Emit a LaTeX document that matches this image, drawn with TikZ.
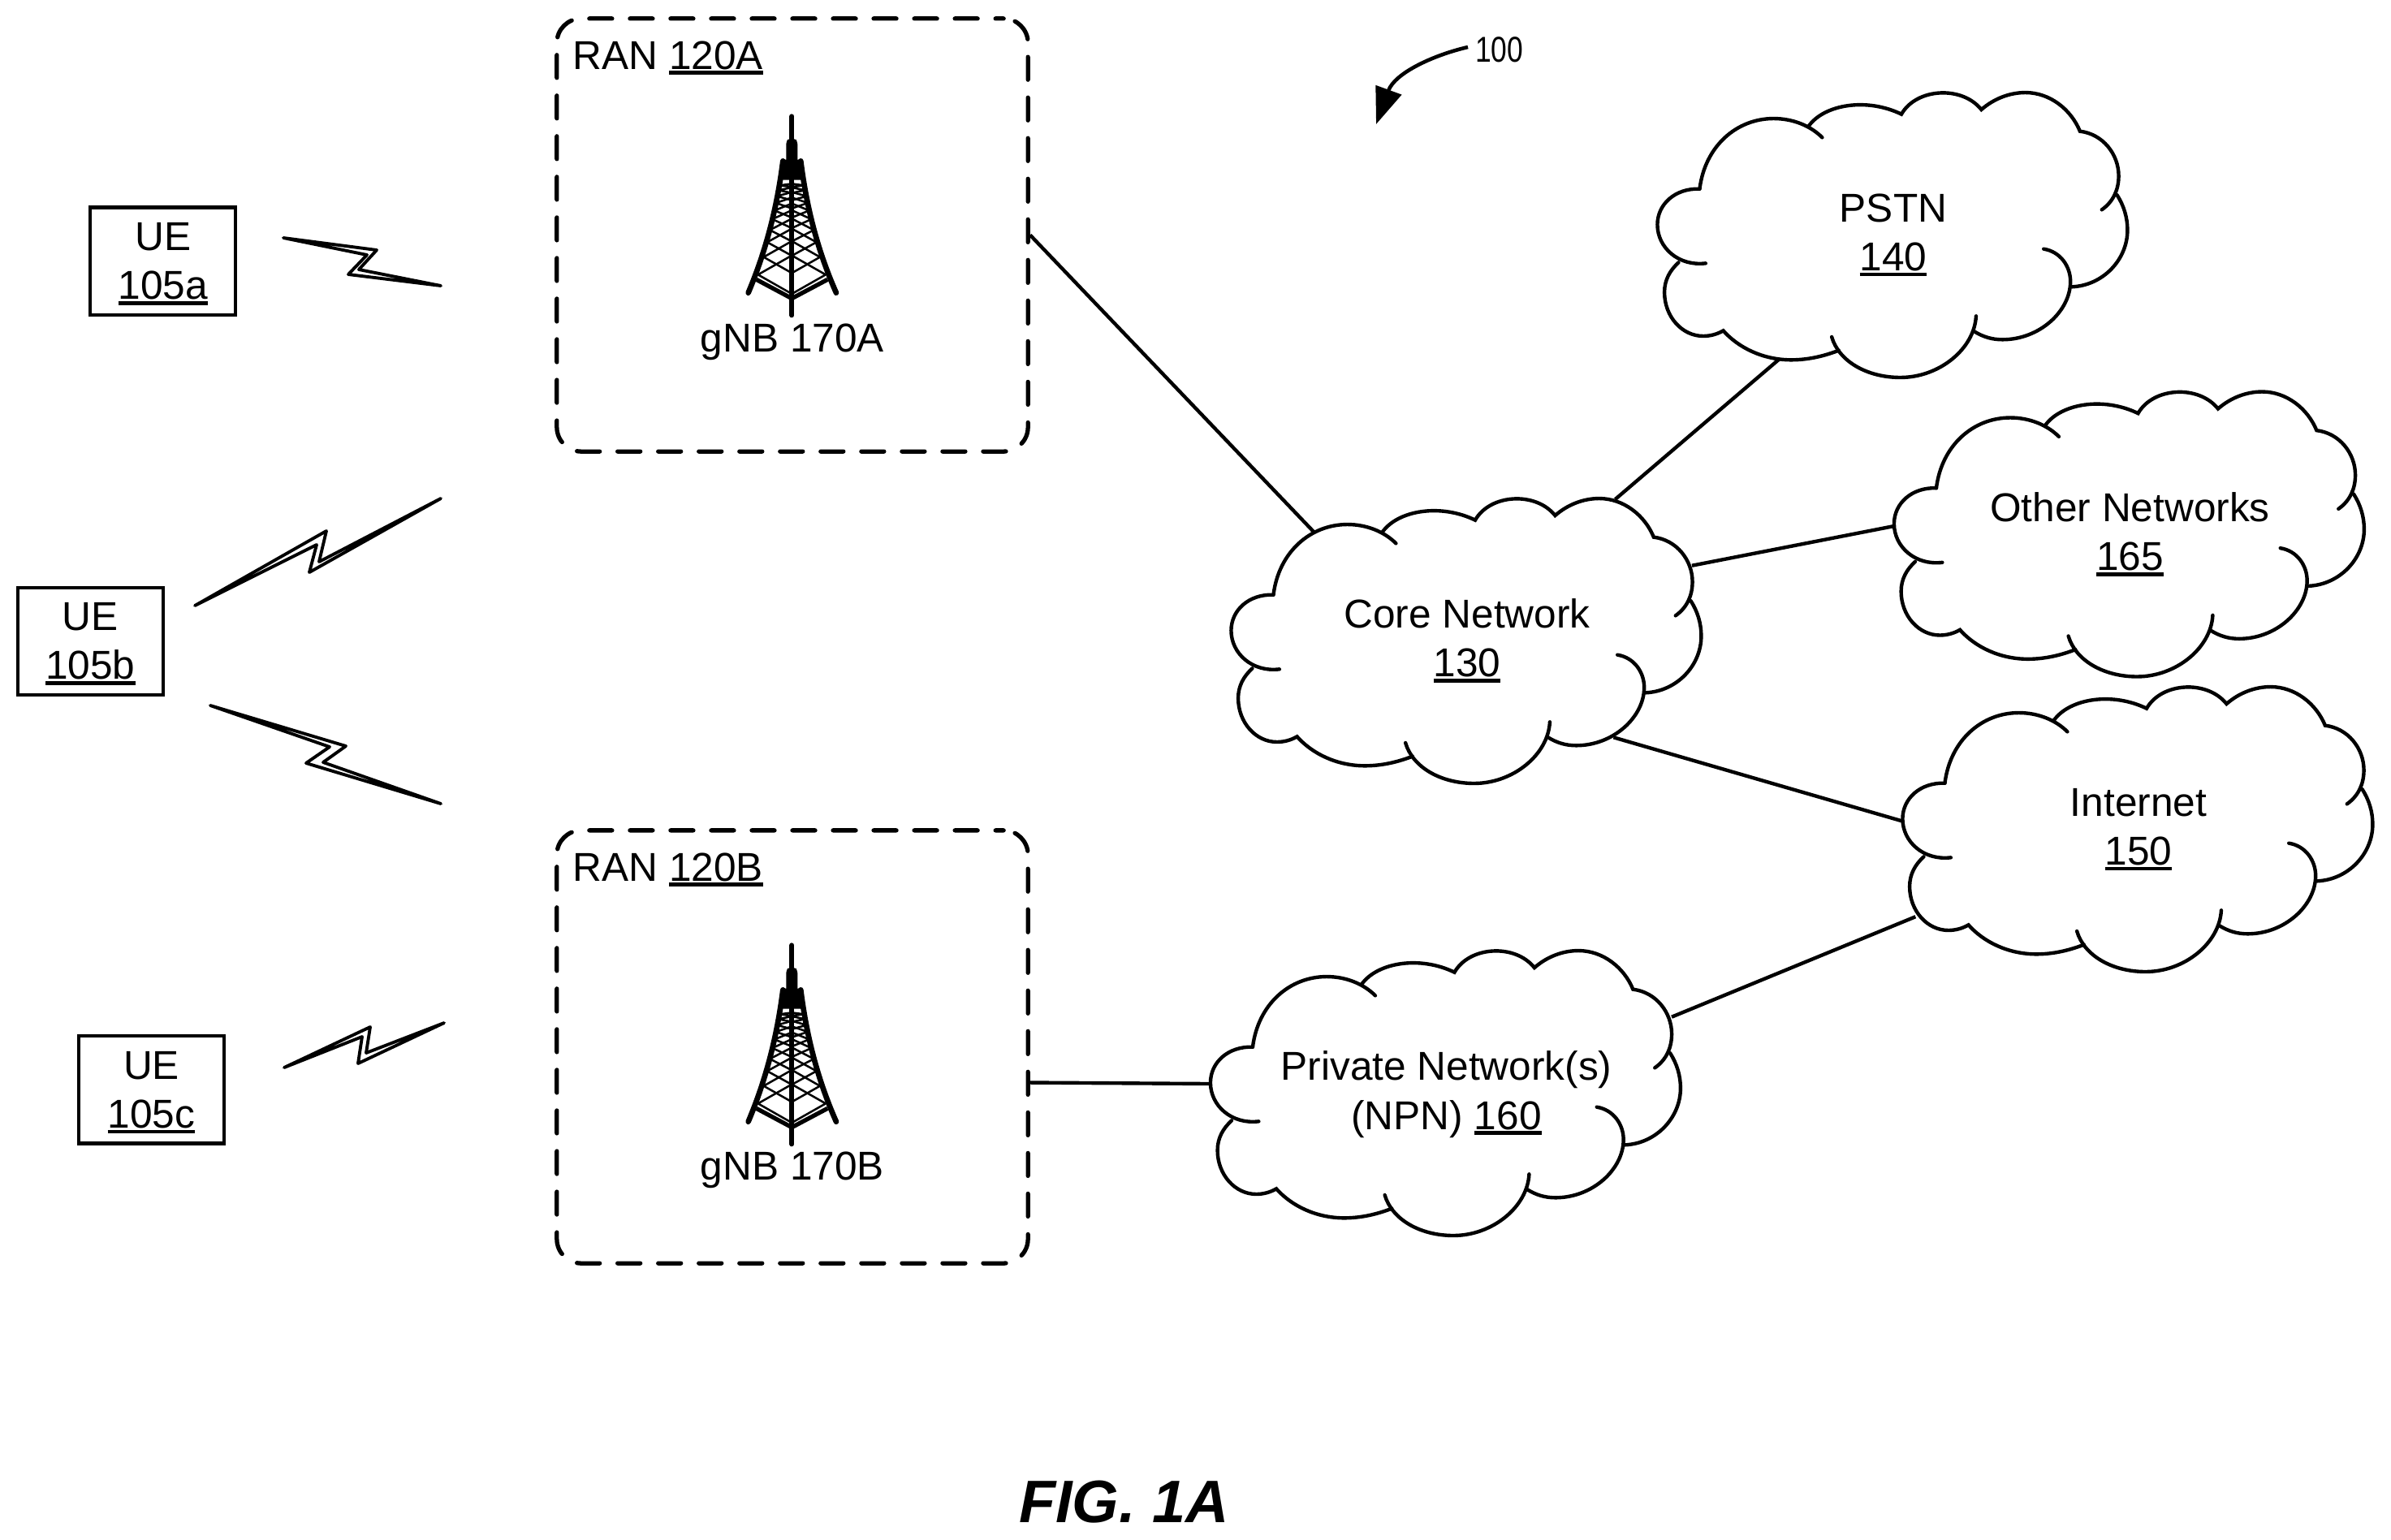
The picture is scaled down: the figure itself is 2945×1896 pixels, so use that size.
\documentclass[tikz,border=0pt]{standalone}
\usepackage{fontspec}
\setmainfont{Liberation Sans}
\usetikzlibrary{arrows.meta}
\newcommand\ulnum[1]{\setbox0=\hbox{#1}\rlap{\smash{\rule[-2pt]{\wd0}{1.3pt}}}\box0}

\begin{document}
\begin{tikzpicture}
[x=.01cm,y=-.01cm,
textfont/.style={font=\fontsize{14.1}{17.07}\selectfont},
uebox/.style={draw,line width=1.25pt,textfont,align=center,inner sep=0pt,text depth=0pt,minimum width=1.79cm,minimum height=1.32cm},
ranbox/.style={draw,line width=1.5pt,line cap=round,dash pattern=on .28cm off .22cm,dash phase=.18cm,rounded corners=.3cm,minimum width=5.8cm,minimum height=5.33cm},
netlabel/.style={textfont,align=center,inner sep=0pt,text depth=0pt},
link/.style={line width=1.25pt},
bolt/.style={line width=1.1pt,line join=round},
netcloud/.pic={
  \begin{scope}[xscale=.4337,yscale=.3333,shift={(-755,-618)}]
  \draw[link,line cap=round] (205,458) .. controls (220,300) and (310,198) .. (415,198) .. controls (470,198) and (520,225) .. (553,268);
  \draw[link,line cap=round] (515,225) .. controls (560,145) and (680,120) .. (778,182) .. controls (820,85) and (950,75) .. (1005,165) .. controls (1040,125) and (1085,102) .. (1130,102) .. controls (1200,102) and (1260,165) .. (1285,245) .. controls (1350,255) and (1395,330) .. (1395,410) .. controls (1395,460) and (1380,505) .. (1347,535);
  \draw[link,line cap=round] (1390,480) .. controls (1410,520) and (1420,565) .. (1420,610) .. controls (1420,720) and (1350,815) .. (1262,820);
  \draw[link,line cap=round] (1182,680) .. controls (1230,690) and (1258,745) .. (1258,800) .. controls (1258,910) and (1170,1015) .. (1065,1015) .. controls (1035,1015) and (1010,1005) .. (985,985);
  \draw[link,line cap=round] (990,928) .. controls (985,1050) and (885,1155) .. (775,1155) .. controls (680,1155) and (600,1095) .. (580,1005);
  \draw[link,line cap=round] (600,1055) .. controls (560,1075) and (515,1090) .. (465,1090) .. controls (385,1090) and (315,1045) .. (272,982) .. controls (255,995) and (235,1002) .. (215,1002) .. controls (155,1002) and (105,930) .. (105,840) .. controls (105,795) and (120,760) .. (145,730);
  \draw[link,line cap=round] (222,733) .. controls (145,745) and (85,675) .. (85,590) .. controls (85,515) and (135,455) .. (205,458);
  \end{scope}
},
tower/.pic={
  \begin{scope}[scale=.3333,shift={(-586,-495)}]
  \draw[line width=1.7pt,line cap=round] (586,130) -- (586,865);
  \fill[rounded corners=1pt] (565,300) -- (565,222) -- (575,212) -- (597,212) -- (607,222) -- (607,300) -- cycle;
  \fill (554,290) -- (618,290) -- (632,365) -- (540,365) -- cycle;
  \draw[line width=1.9pt,line cap=round] (553,295) .. controls (530,480) and (485,640) .. (425,782);
  \draw[line width=1.9pt,line cap=round] (619,295) .. controls (642,480) and (687,640) .. (750,782);
  \draw[line width=1.5pt] (455,733) -- (586,803) -- (718,733);
  %lattice of the mast, level by level
  \foreach \y/\w/\d in {715/125/71,650/104/59,595/91/50,550/81/42,510/72/33,478/64/26,450/59/20,425/55/15,403/49/10,385/45/6}
    \draw[line width=.72pt,line join=round] ({586-\w},\y) -- (586,\y-\d) -- ({586+\w},\y) -- (586,\y+\d) -- cycle;
  \end{scope}
}]

\useasboundingbox (0,0) rectangle (2945,1896);

%UE boxes
\node[uebox] (uea) at (200.7,321.7) {UE\\\ulnum{105a}};
\node[uebox] (ueb) at (111.4,789.8) {UE\\\ulnum{105b}};
\node[uebox] (uec) at (186.5,1342.3) {UE\\\ulnum{105c}};

%Radio links
\draw[bolt] (349,293) -- (464,308) -- (442,332) -- (543,352) -- (429,338) -- (452,314) -- cycle;
\draw[bolt] (240,746) -- (402,654) -- (393,692) -- (543,614) -- (381,705) -- (390,671) -- cycle;
\draw[bolt] (259,869) -- (426,919) -- (398,939) -- (543,990) -- (377,940) -- (406,920) -- cycle;
\draw[bolt] (350,1315) -- (456,1265) -- (451,1297) -- (547,1260) -- (441,1310) -- (446,1277) -- cycle;

%RAN boxes with their towers
\node[ranbox] (rana) at (976,289.5) {};
\node[ranbox] (ranb) at (976,1289.5) {};
\node[textfont,anchor=base west,inner sep=0pt] (titlea) at (705,85) {RAN \ulnum{120A}};
\node[textfont,anchor=base west,inner sep=0pt] (titleb) at (705,1085) {RAN \ulnum{120B}};
\pic at (975.3,265) {tower};
\pic at (975.3,1286) {tower};
\node[textfont,anchor=base,inner sep=0pt] (gnba) at (976,433) {gNB 170A};
\node[textfont,anchor=base,inner sep=0pt] (gnbb) at (976,1453) {gNB 170B};

%Clouds
\node[netlabel] (core) at (1807,786) {Core Network\\\ulnum{130}};
\node[netlabel] (pstn) at (2332,286) {PSTN\\\ulnum{140}};
\node[netlabel] (other) at (2623.5,654.5) {Other Networks\\\ulnum{165}};
\node[netlabel] (inet) at (2634,1018) {Internet\\\ulnum{150}};
\node[netlabel] (npn) at (1781.5,1343) {Private Network(s)\\(NPN) \ulnum{160}};
\pic at (core) {netcloud};
\pic at (pstn) {netcloud};
\pic at (other) {netcloud};
\pic at (inet) {netcloud};
\pic at (npn) {netcloud};

%Ends of the links on the clouds
\coordinate (coreA) at (1618,655);
\coordinate (coreB) at (1989.5,615);
\coordinate (coreC) at (2084,696.7);
\coordinate (coreD) at (1987.4,908.3);
\coordinate (pstnA) at (2190.8,443);
\coordinate (otherA) at (2332,648.2);
\coordinate (inetA) at (2342.5,1011.3);
\coordinate (inetB) at (2359.3,1129.2);
\coordinate (npnA) at (1489.3,1335);
\coordinate (npnB) at (2059,1252.7);
\coordinate (ranbA) at (1266,1333.5);

%Joining RANs and networks
\draw[link] (rana.east) -- (coreA);
\draw[link] (ranbA) -- (npnA);
\draw[link] (coreB) -- (pstnA);
\draw[link] (coreC) -- (otherA);
\draw[link] (coreD) -- (inetA);
\draw[link] (npnB) -- (inetB);

%Reference numeral
\node[anchor=base west,inner sep=0pt,font=\fontsize{12.6}{15}\selectfont,xscale=.8,transform shape] (refnum) at (1816.7,76) {100};
\coordinate (refstart) at (1808,58);
\coordinate (reftip) at (1695,153);
\draw[line width=1.3pt,-{Triangle[length=.45cm,width=.33cm]}] (refstart) .. controls (1765,68) and (1718,90) .. (reftip);

%Figure caption
\node[anchor=base,inner sep=0pt,font=\fontsize{21}{25}\selectfont\bfseries\itshape] (figcap) at (1384.5,1875) {FIG. 1A};

\end{tikzpicture}
\end{document}
